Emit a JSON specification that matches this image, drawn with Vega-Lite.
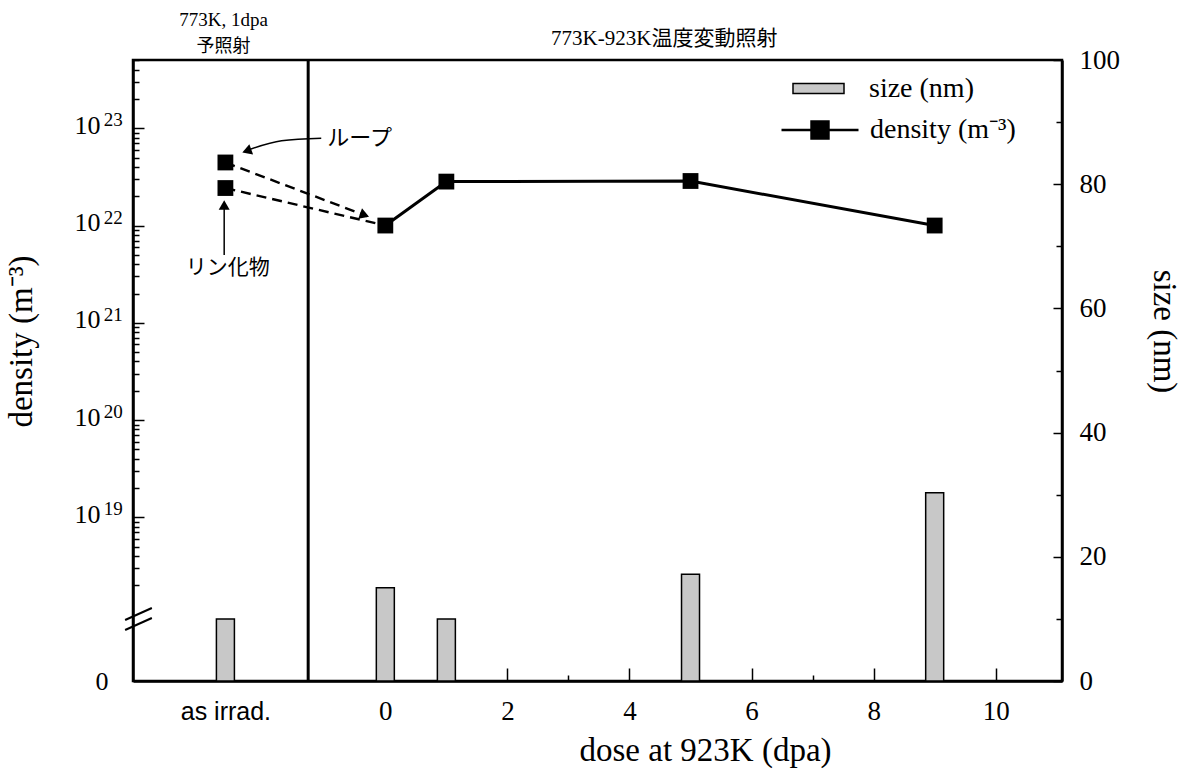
{
  "$schema": "https://vega.github.io/schema/vega-lite/v6.json",
  "width": 929,
  "height": 621,
  "autosize": {"type": "none"},
  "padding": {"left": 133, "top": 60, "right": 122, "bottom": 96},
  "background": "white",
  "config": {
    "font": "Liberation Serif",
    "view": {"stroke": "black", "strokeWidth": 2.5},
    "axis": {
      "domainColor": "black", "domainWidth": 2.5, "tickColor": "black", "tickWidth": 1.5,
      "labelColor": "black", "titleColor": "black", "grid": false,
      "labelFont": "Liberation Serif", "titleFont": "Liberation Serif", "titleFontWeight": "normal",
      "labelOverlap": false, "labelFlush": false, "labelBound": false
    },
    "legend": {"labelColor": "black", "labelFont": "Liberation Serif", "padding": 0}
  },
  "datasets": {
    "sizes": [
      {"dose": -2.62, "size": 10, "series": "size (nm)"},
      {"dose": 0, "size": 15, "series": "size (nm)"},
      {"dose": 1, "size": 10, "series": "size (nm)"},
      {"dose": 5, "size": 17.2, "series": "size (nm)"},
      {"dose": 9, "size": 30.3, "series": "size (nm)"}
    ],
    "density": [
      {"dose": 0, "density": 1e22, "series": "density (m⁻³)"},
      {"dose": 1, "density": 2.83e22, "series": "density (m⁻³)"},
      {"dose": 5, "density": 2.87e22, "series": "density (m⁻³)"},
      {"dose": 9, "density": 1e22, "series": "density (m⁻³)"}
    ],
    "pre": [
      {"kind": "ループ", "dose": -2.62, "density": 4.45e22},
      {"kind": "リン化物", "dose": -2.62, "density": 2.43e22}
    ],
    "dashes": [
      {"kind": "ループ", "dose": -2.62, "density": 4.45e22},
      {"kind": "ループ", "dose": -0.3, "density": 1.25e22},
      {"kind": "リン化物", "dose": -2.62, "density": 2.43e22},
      {"kind": "リン化物", "dose": 0, "density": 1e22}
    ],
    "curve": [
      {"dose": -1.05, "density": 7.9e22},
      {"dose": -1.7, "density": 7.45e22},
      {"dose": -2.24, "density": 6.0e22}
    ],
    "exps": [
      {"density": 1e19, "exp": "19"},
      {"density": 1e20, "exp": "20"},
      {"density": 1e21, "exp": "21"},
      {"density": 1e22, "exp": "22"},
      {"density": 1e23, "exp": "23"}
    ]
  },
  "layer": [
    {
      "layer": [
        {
          "data": {"name": "sizes"},
          "mark": {"type": "bar", "width": 18, "stroke": "black", "strokeWidth": 1.5},
          "encoding": {
            "x": {
              "field": "dose", "type": "quantitative",
              "scale": {"domain": [-4.052, 11.004], "nice": false, "zero": false},
              "axis": {
                "orient": "bottom",
                "values": [-2.62, 0, 1, 2, 3, 4, 5, 6, 7, 8, 9, 10],
                "format": "d",
                "labelExpr": "datum.value < -1 ? 'as irrad.' : (datum.value % 2 == 0 ? datum.label : '')",
                "labelFont": {"condition": {"test": "datum.value < -1", "value": "Liberation Sans"}, "value": "Liberation Serif"},
                "labelFontSize": {"condition": {"test": "datum.value < -1", "value": 25}, "value": 27},
                "tickSize": {"condition": {"test": "datum.value % 2 == 0", "value": -13}, "value": -6},
                "tickOpacity": {"condition": {"test": "datum.value < -1", "value": 0}, "value": 1},
                "labelPadding": {"condition": {"test": "datum.value < -1", "value": 24}, "value": 30},
                "title": "dose at 923K (dpa)",
                "titleFont": "Liberation Serif",
                "titleFontSize": 33,
                "titleX": 572,
                "titleY": 69,
                "titleBaseline": "middle"
              }
            },
            "y": {
              "field": "size", "type": "quantitative",
              "scale": {"domain": [0, 100], "nice": false},
              "axis": {
                "orient": "right",
                "values": [0, 10, 20, 30, 40, 50, 60, 70, 80, 90, 100],
                "labelExpr": "datum.value % 20 == 0 ? datum.label : ''",
                "labelFont": "Liberation Serif",
                "labelFontSize": 27,
                "tickSize": {"condition": {"test": "datum.value % 20 == 0", "value": -9}, "value": -6},
                "labelPadding": 26,
                "title": "size (nm)",
                "titleFont": "Liberation Serif",
                "titleFontSize": 33,
                "titleX": 84,
                "titleY": 271
              }
            },
            "fill": {
              "field": "series", "type": "nominal",
              "scale": {"range": ["#c8c8c8"]},
              "legend": {
                "orient": "none", "legendX": 659, "legendY": 2, "title": null,
                "symbolType": "M-1,-0.2H1V0.2H-1Z", "symbolSize": 2601,
                "symbolStrokeColor": "black", "symbolStrokeWidth": 1.5,
                "labelFont": "Liberation Serif", "labelFontSize": 28, "labelOffset": 24
              }
            }
          }
        },
        {
          "data": {"values": [{}]},
          "mark": {"type": "rule", "strokeWidth": 3, "color": "black"},
          "encoding": {"x": {"datum": -1.264}}
        },
        {
          "data": {"values": [{}]},
          "mark": {"type": "rule", "strokeWidth": 2, "color": "black"},
          "encoding": {"x": {"datum": -4.263}, "x2": {"datum": -3.825}, "y": {"datum": 9.82}, "y2": {"datum": 11.76}}
        },
        {
          "data": {"values": [{}]},
          "mark": {"type": "rule", "strokeWidth": 2, "color": "black"},
          "encoding": {"x": {"datum": -4.263}, "x2": {"datum": -3.825}, "y": {"datum": 8.21}, "y2": {"datum": 10.14}}
        },
        {
          "data": {"values": [{}]},
          "mark": {"type": "text", "font": "Liberation Serif", "fontSize": 19, "color": "black", "text": "773K, 1dpa"},
          "encoding": {"x": {"datum": -2.65}, "y": {"datum": 106.4}}
        },
        {
          "data": {"values": [{}]},
          "mark": {"type": "text", "font": "Noto Sans CJK JP", "fontSize": 18, "color": "black", "text": "予照射"},
          "encoding": {"x": {"datum": -2.65}, "y": {"datum": 102.1}}
        },
        {
          "data": {"values": [{}]},
          "mark": {"type": "text", "font": "Liberation Serif, Noto Sans CJK JP", "fontSize": 21, "color": "black", "text": "773K-923K温度変動照射"},
          "encoding": {"x": {"datum": 4.57}, "y": {"datum": 103.4}}
        }
      ]
    },
    {
      "layer": [
        {
          "data": {"name": "dashes"},
          "mark": {"type": "line", "strokeDash": [10, 6], "strokeWidth": 2.4, "color": "black"},
          "encoding": {
            "x": {"field": "dose", "type": "quantitative"},
            "y": {
              "field": "density", "type": "quantitative",
              "scale": {"type": "log", "domain": [2.075e17, 5.035e23], "nice": false},
              "axis": {
                "orient": "left",
                "values": [2.075e17, 2e18, 3e18, 4e18, 5e18, 6e18, 7e18, 8e18, 9e18, 1e19, 2e19, 3e19, 4e19, 5e19, 6e19, 7e19, 8e19, 9e19, 1e20, 2e20, 3e20, 4e20, 5e20, 6e20, 7e20, 8e20, 9e20, 1e21, 2e21, 3e21, 4e21, 5e21, 6e21, 7e21, 8e21, 9e21, 1e22, 2e22, 3e22, 4e22, 5e22, 6e22, 7e22, 8e22, 9e22, 1e23, 2e23, 3e23, 4e23, 5e23],
                "labelExpr": "datum.value < 1e18 ? '0' : (datum.value==1e19||datum.value==1e20||datum.value==1e21||datum.value==1e22||datum.value==1e23) ? '10' : ''",
                "labelFont": "Liberation Serif",
                "labelFontSize": 26,
                "tickSize": {"condition": {"test": "datum.value==1e19||datum.value==1e20||datum.value==1e21||datum.value==1e22||datum.value==1e23", "value": -11}, "value": -6},
                "tickOpacity": {"condition": {"test": "datum.value < 1e18", "value": 0}, "value": 1},
                "labelPadding": {"condition": {"test": "datum.value < 1e18", "value": 31}, "value": 44},
                "labelOffset": {"condition": {"test": "datum.value < 1e18", "value": 0}, "value": -3},
                "title": "density (m⁻³)",
                "titleFont": "Liberation Serif",
                "titleFontSize": 33,
                "titleX": -95,
                "titleY": 281
              }
            },
            "detail": {"field": "kind"}
          }
        },
        {
          "data": {"name": "exps"},
          "mark": {"type": "text", "font": "Liberation Serif", "fontSize": 19, "color": "black", "align": "left", "baseline": "middle", "dy": -8},
          "encoding": {
            "x": {"datum": -4.615},
            "y": {"field": "density", "type": "quantitative"},
            "text": {"field": "exp"}
          }
        },
        {
          "data": {"name": "density"},
          "mark": {"type": "line", "strokeWidth": 3},
          "encoding": {
            "x": {"field": "dose", "type": "quantitative"},
            "y": {"field": "density", "type": "quantitative"},
            "stroke": {
              "field": "series", "type": "nominal",
              "scale": {"range": ["black"]},
              "legend": {
                "orient": "none", "legendX": 647, "legendY": 30, "title": null,
                "symbolType": "M-1,0H1M-0.22,-0.22H0.22V0.22H-0.22Z", "symbolSize": 5929,
                "symbolStrokeColor": "black", "symbolFillColor": "black", "symbolStrokeWidth": 2.5,
                "labelFont": "Liberation Serif", "labelFontSize": 28, "labelOffset": 10
              }
            }
          }
        },
        {
          "data": {"name": "density"},
          "mark": {"type": "point", "shape": "square", "filled": true, "size": 250, "color": "black", "opacity": 1},
          "encoding": {
            "x": {"field": "dose", "type": "quantitative"},
            "y": {"field": "density", "type": "quantitative"}
          }
        },
        {
          "data": {"name": "pre"},
          "mark": {"type": "point", "shape": "square", "filled": true, "size": 250, "color": "black", "opacity": 1},
          "encoding": {
            "x": {"field": "dose", "type": "quantitative"},
            "y": {"field": "density", "type": "quantitative"}
          }
        },
        {
          "data": {"name": "curve"},
          "mark": {"type": "line", "strokeWidth": 1.5, "color": "black", "interpolate": "monotone"},
          "encoding": {
            "x": {"field": "dose", "type": "quantitative"},
            "y": {"field": "density", "type": "quantitative"}
          }
        },
        {
          "data": {"values": [{}]},
          "mark": {"type": "point", "shape": "triangle-left", "angle": -20, "filled": true, "size": 120, "color": "black", "opacity": 1},
          "encoding": {"x": {"datum": -2.27}, "y": {"datum": 5.85e22}}
        },
        {
          "data": {"values": [{}]},
          "mark": {"type": "point", "shape": "triangle-right", "angle": 20, "filled": true, "size": 120, "color": "black", "opacity": 1},
          "encoding": {"x": {"datum": -0.34}, "y": {"datum": 1.28e22}}
        },
        {
          "data": {"values": [{}]},
          "mark": {"type": "rule", "strokeWidth": 1.5, "color": "black"},
          "encoding": {"x": {"datum": -2.64}, "y": {"datum": 4.98e21}, "y2": {"datum": 1.6e22}}
        },
        {
          "data": {"values": [{}]},
          "mark": {"type": "point", "shape": "triangle-up", "filled": true, "size": 120, "color": "black", "opacity": 1},
          "encoding": {"x": {"datum": -2.64}, "y": {"datum": 1.63e22}}
        },
        {
          "data": {"values": [{}]},
          "mark": {"type": "text", "font": "Noto Sans CJK JP", "fontSize": 22, "color": "black", "text": "ループ"},
          "encoding": {"x": {"datum": -0.42}, "y": {"datum": 7.95e22}}
        },
        {
          "data": {"values": [{}]},
          "mark": {"type": "text", "font": "Noto Sans CJK JP", "fontSize": 21, "color": "black", "text": "リン化物"},
          "encoding": {"x": {"datum": -2.58}, "y": {"datum": 3.66e21}}
        }
      ]
    }
  ],
  "resolve": {"scale": {"y": "independent"}, "axis": {"y": "independent"}}
}
